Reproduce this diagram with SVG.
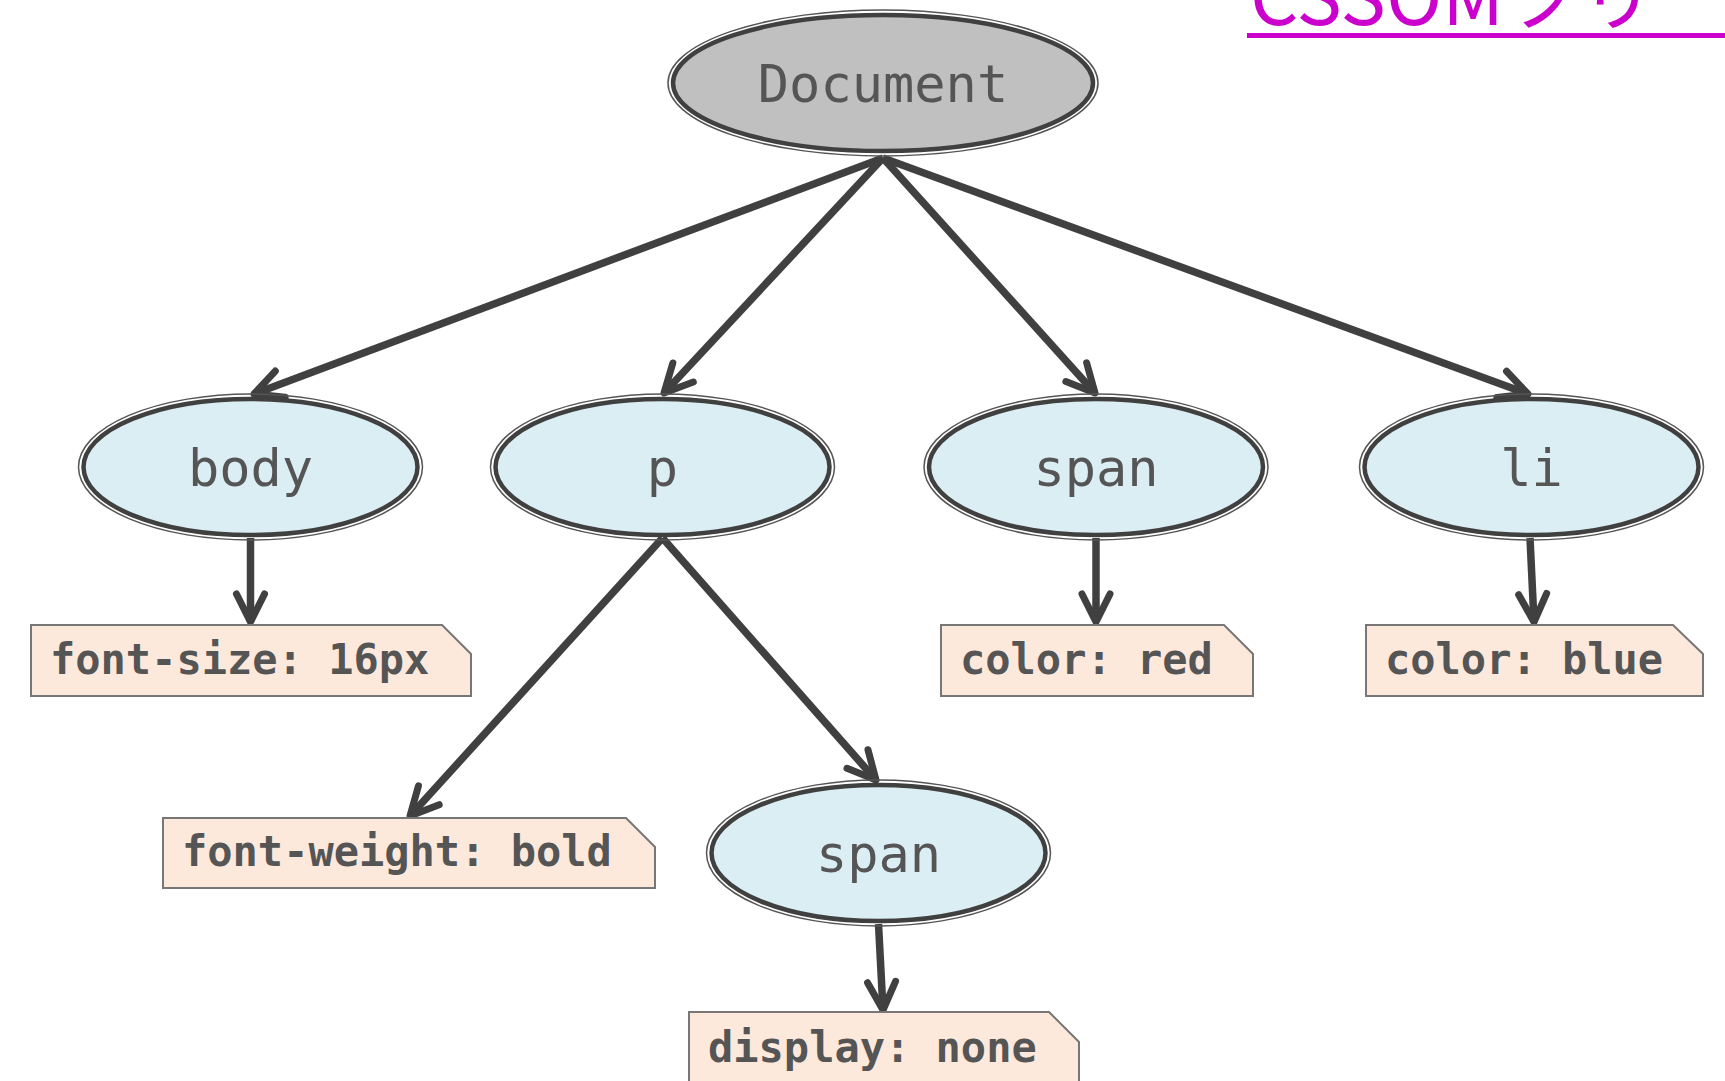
<svg xmlns="http://www.w3.org/2000/svg" width="1725" height="1081" viewBox="0 0 1725 1081">
  <defs>
    <style>
      .el-out { fill: none; stroke: #555; stroke-width: 1.5; }
      .el-in { stroke: #404040; stroke-width: 4.5; }
      .doc { fill: #c0c0c0; }
      .blue { fill: #dbeef4; }
      .ntext { font-family: "DejaVu Sans Mono", monospace; font-size: 52px; fill: #555; text-anchor: middle; }
      .box { fill: #fde9db; stroke: #777; stroke-width: 2; }
      .btext { font-family: "DejaVu Sans Mono", monospace; font-weight: bold; font-size: 42px; fill: #555; }
      .edge { stroke: #404040; stroke-width: 7.5; fill: none; marker-end: url(#arr); }
    </style>
    <marker id="arr" markerUnits="userSpaceOnUse" orient="auto" refX="0" refY="0" markerWidth="60" markerHeight="60" viewBox="-40 -30 60 60" overflow="visible">
      <path d="M-28,-14 L0,0 L-28,14" fill="none" stroke="#404040" stroke-width="7" stroke-linecap="round" stroke-linejoin="round"/>
    </marker>
  </defs>
  <rect width="1725" height="1081" fill="#fff"/>

  <g id="title">
    <text x="1250" y="25" font-family="'Noto Sans CJK JP', sans-serif" font-size="76" fill="#cc00cc">CSSOMツリー</text>
    <rect x="1247" y="33" width="478" height="5" fill="#cc00cc"/>
  </g>

  <g id="connectors">
    <line class="edge" x1="883" y1="158" x2="254" y2="394"/>
    <line class="edge" x1="883" y1="158" x2="664" y2="393"/>
    <line class="edge" x1="883" y1="158" x2="1095" y2="393"/>
    <line class="edge" x1="883" y1="158" x2="1528" y2="394"/>
    <line class="edge" x1="250.5" y1="538" x2="250.5" y2="622"/>
    <line class="edge" x1="662.5" y1="538" x2="410" y2="816"/>
    <line class="edge" x1="662.5" y1="538" x2="876" y2="780"/>
    <line class="edge" x1="1096" y1="538" x2="1096" y2="622"/>
    <line class="edge" x1="1530" y1="538" x2="1534" y2="622"/>
    <line class="edge" x1="878.5" y1="924" x2="883" y2="1010"/>
  </g>

  <g id="node-document">
    <ellipse class="el-out" cx="883" cy="83" rx="215" ry="73"/>
    <ellipse class="el-in doc" cx="883" cy="83" rx="210" ry="68"/>
    <text class="ntext" x="883" y="102">Document</text>
  </g>
  <g id="node-body">
    <ellipse class="el-out" cx="250.5" cy="467" rx="172" ry="73"/>
    <ellipse class="el-in blue" cx="250.5" cy="467" rx="167" ry="68"/>
    <text class="ntext" x="250.5" y="486">body</text>
  </g>
  <g id="node-p">
    <ellipse class="el-out" cx="662.5" cy="467" rx="172" ry="73"/>
    <ellipse class="el-in blue" cx="662.5" cy="467" rx="167" ry="68"/>
    <text class="ntext" x="662.5" y="486">p</text>
  </g>
  <g id="node-span">
    <ellipse class="el-out" cx="1096" cy="467" rx="172" ry="73"/>
    <ellipse class="el-in blue" cx="1096" cy="467" rx="167" ry="68"/>
    <text class="ntext" x="1096" y="486">span</text>
  </g>
  <g id="node-li">
    <ellipse class="el-out" cx="1531.5" cy="467" rx="172" ry="73"/>
    <ellipse class="el-in blue" cx="1531.5" cy="467" rx="167" ry="68"/>
    <text class="ntext" x="1531.5" y="486">li</text>
  </g>
  <g id="node-span2">
    <ellipse class="el-out" cx="878.5" cy="853" rx="172" ry="73"/>
    <ellipse class="el-in blue" cx="878.5" cy="853" rx="167" ry="68"/>
    <text class="ntext" x="878.5" y="872">span</text>
  </g>

  <g id="note-font-size">
    <path class="box" d="M31,625 H442 L471,654 V696 H31 Z"/>
    <text class="btext" x="50" y="674">font-size: 16px</text>
  </g>
  <g id="note-color-red">
    <path class="box" d="M941,625 H1224 L1253,654 V696 H941 Z"/>
    <text class="btext" x="960" y="674">color: red</text>
  </g>
  <g id="note-color-blue">
    <path class="box" d="M1366,625 H1673 L1703,654 V696 H1366 Z"/>
    <text class="btext" x="1385" y="674">color: blue</text>
  </g>
  <g id="note-font-weight">
    <path class="box" d="M163,818 H626 L655,847 V888 H163 Z"/>
    <text class="btext" x="182" y="866">font-weight: bold</text>
  </g>
  <g id="note-display">
    <path class="box" d="M689,1012 H1049 L1079,1042 V1090 H689 Z"/>
    <text class="btext" x="708" y="1062">display: none</text>
  </g>
</svg>
